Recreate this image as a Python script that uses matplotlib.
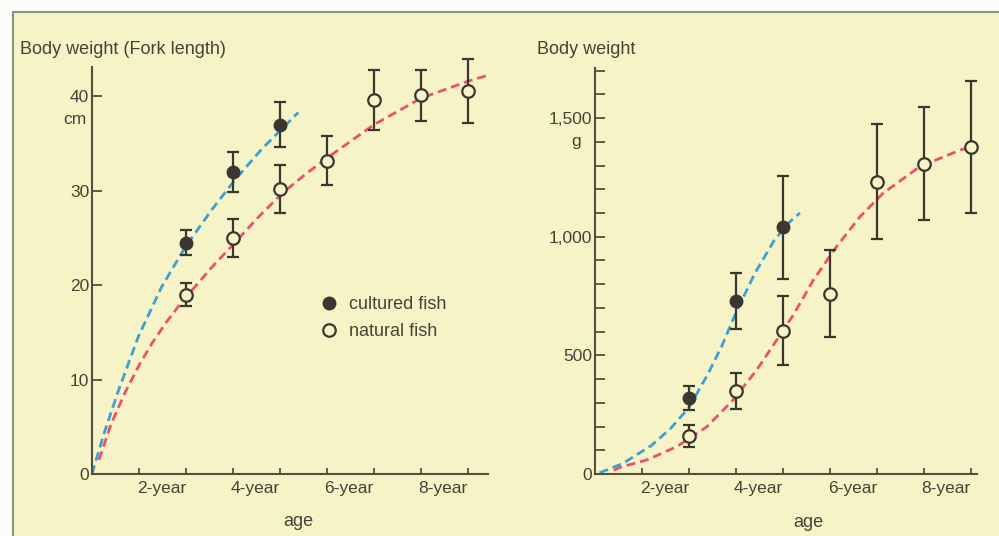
import matplotlib
matplotlib.use("Agg")
import matplotlib.pyplot as plt
from matplotlib.lines import Line2D
from matplotlib.patches import Rectangle

# ---- data ----
cult_ages = [2, 3, 4]
nat_ages = [2, 3, 4, 5, 6, 7, 8]

cult_len = [24.5, 32.0, 37.0]
cult_len_err = [1.3, 2.1, 2.4]
nat_len = [19.0, 25.0, 30.2, 33.2, 39.6, 40.1, 40.6]
nat_len_err = [1.2, 2.0, 2.5, 2.6, 3.2, 2.7, 3.4]

cult_wt = [320, 730, 1040]
cult_wt_err = [52, 118, 217]
nat_wt = [160, 350, 603, 760, 1232, 1308, 1378]
nat_wt_err = [45, 76, 145, 183, 243, 238, 280]

# fitted growth curves
len_cult_curve_x = [0, 0.25, 0.56, 0.99, 1.48, 1.98, 2.55, 3.05, 3.61, 4.39]
len_cult_curve_y = [0, 4.2, 8.8, 14.6, 19.8, 24.0, 28.0, 31.2, 34.4, 38.3]
len_nat_curve_x = [0.15, 0.4, 0.7, 1.0, 1.27, 1.6, 1.91, 2.55, 3.04, 3.54, 4.04, 4.53,
                   5.01, 6.0, 7.0, 8.0, 8.4]
len_nat_curve_y = [1.5, 5.2, 8.6, 11.5, 13.8, 16.2, 18.2, 21.9, 24.5, 27.2, 29.7, 31.7,
                   33.5, 37.0, 39.8, 41.6, 42.2]

wt_cult_curve_x = [0.1, 0.6, 1.2, 1.6, 2.0, 2.4, 2.7, 3.0, 3.4, 3.8, 4.1, 4.36]
wt_cult_curve_y = [5, 45, 120, 190, 280, 420, 540, 680, 845, 980, 1055, 1100]
wt_nat_curve_x = [0.4, 0.53, 1.10, 1.74, 2.38, 2.94, 3.44, 3.87, 4.22, 4.65, 5.14, 5.64,
                  6.13, 6.91, 7.77, 8.0]
wt_nat_curve_y = [15, 28, 59, 115, 199, 312, 438, 565, 670, 818, 958, 1084,
                  1183, 1295, 1365, 1378]

year_ticks = [1, 2, 3, 4, 5, 6, 7, 8]
year_labels = ["", "2-year", "", "4-year", "", "6-year", "", "8-year"]

bg = "#f6f3c6"
ink = "#4a4036"
dark = "#3b362f"
blue = "#3c9fd6"
red = "#e9526c"

plt.rcParams["font.family"] = ["Liberation Sans", "DejaVu Sans"]

fig = plt.figure(figsize=(9.99, 5.36), dpi=100, facecolor="#fcfcfa")
fig.patches.append(Rectangle((13 / 999, -0.02), 1.0, (536 - 12) / 536 + 0.02,
                             transform=fig.transFigure, facecolor=bg,
                             edgecolor="#8e8e82", linewidth=1.5, zorder=-5))

ax1 = fig.add_axes([0.0921, 0.1157, 0.3964, 0.759])
ax2 = fig.add_axes([0.5956, 0.1157, 0.3824, 0.757])


def style_axis(ax, xmax):
    ax.set_facecolor("none")
    for s in ["top", "right"]:
        ax.spines[s].set_visible(False)
    for s in ["left", "bottom"]:
        ax.spines[s].set_color("#5a4c3e")
        ax.spines[s].set_linewidth(1.5)
    ax.set_xlim(0, xmax)
    ax.set_xticks(year_ticks)
    ax.set_xticklabels(year_labels, ha="right")
    ax.tick_params(axis="x", direction="in", length=4.5, width=1.3,
                   colors="#5a4c3e", labelcolor=ink, labelsize=12.5, pad=5)
    ax.tick_params(axis="y", direction="in", length=7, width=1.3,
                   colors="#5a4c3e", labelcolor=ink, labelsize=12.5, pad=2)


def draw_points(ax, cult, cult_err, nat, nat_err):
    ax.errorbar(cult_ages, cult, yerr=cult_err, fmt="o", ms=9, mfc=dark, mec=dark,
                ecolor=dark, elinewidth=1.6, capsize=4, capthick=1.6,
                zorder=4, clip_on=False)
    ax.errorbar(nat_ages, nat, yerr=nat_err, fmt="o", ms=9, mfc=bg, mec=dark, mew=1.6,
                ecolor=dark, elinewidth=1.6, capsize=4, capthick=1.6,
                zorder=4, clip_on=False)


# ---- left: fork length ----
style_axis(ax1, 8.43)
ax1.set_ylim(0, 43.1)
ax1.set_yticks([0, 10, 20, 30, 40])
ax1.plot(len_cult_curve_x, len_cult_curve_y, color=blue, lw=2, dashes=(3.2, 1.8), zorder=2)
ax1.plot(len_nat_curve_x, len_nat_curve_y, color=red, lw=2, dashes=(3.2, 1.8), zorder=2)
draw_points(ax1, cult_len, cult_len_err, nat_len, nat_len_err)
ax1.text(-0.015, 37.6, "cm", transform=ax1.get_yaxis_transform(),
         ha="right", va="center", fontsize=12.5, color=ink)
ax1.set_xlabel("age", fontsize=13, color=ink)
ax1.xaxis.set_label_coords(0.52, -0.116)
ax1.xaxis.label.set_va("center")

handles = [
    Line2D([], [], ls="none", marker="o", ms=9, mfc=dark, mec=dark),
    Line2D([], [], ls="none", marker="o", ms=9, mfc=bg, mec=dark, mew=1.6),
]
ax1.legend(handles, ["cultured fish", "natural fish"], loc="upper left",
           bbox_to_anchor=(0.578, 0.437), frameon=False, fontsize=13,
           handlelength=0.95, handletextpad=0.6, labelspacing=0.55,
           borderpad=0, borderaxespad=0, labelcolor=ink)

# ---- right: body weight ----
style_axis(ax2, 8.13)
ax2.set_ylim(0, 1710)
wt_ticks = list(range(0, 1800, 100))
ax2.set_yticks(wt_ticks)
ax2.set_yticklabels([{0: "0", 500: "500", 1000: "1,000", 1500: "1,500"}.get(t, "")
                     for t in wt_ticks])
ax2.plot(wt_cult_curve_x, wt_cult_curve_y, color=blue, lw=2, dashes=(3.2, 1.8), zorder=2)
ax2.plot(wt_nat_curve_x, wt_nat_curve_y, color=red, lw=2, dashes=(3.2, 1.8), zorder=2)
draw_points(ax2, cult_wt, cult_wt_err, nat_wt, nat_wt_err)
ax2.text(-0.037, 1400, "g", transform=ax2.get_yaxis_transform(),
         ha="right", va="center", fontsize=12.5, color=ink)
ax2.set_xlabel("age", fontsize=13, color=ink)
ax2.xaxis.set_label_coords(0.558, -0.12)
ax2.xaxis.label.set_va("center")

fig.text(20 / 999, 1 - 50 / 536, "Body weight (Fork length)", fontsize=13,
         color=ink, ha="left", va="center")
fig.text(537 / 999, 1 - 50 / 536, "Body weight", fontsize=13,
         color=ink, ha="left", va="center")

fig.savefig("out.png", dpi=100, facecolor=fig.get_facecolor())
plt.close(fig)
